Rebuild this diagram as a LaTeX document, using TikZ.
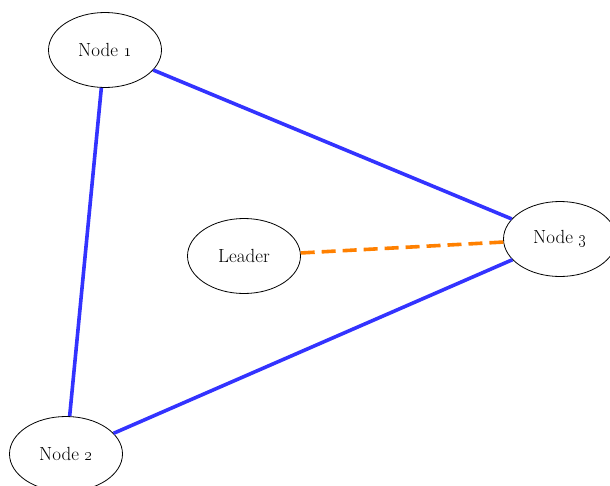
\documentclass[tikz,border=0pt]{standalone}
\usetikzlibrary{shapes.geometric}
\begin{document}
\begin{tikzpicture}[x=1pt,y=-1pt,
  peer/.style={ellipse, draw=black, line width=0.8pt, fill=white,
    minimum width=113pt, minimum height=75pt, inner sep=0pt,
    font=\fontsize{19}{22}\selectfont},
  link/.style={draw={rgb,255:red,51;green,51;blue,255}, line width=3.6pt},
  vote/.style={draw={rgb,255:red,255;green,128;blue,0}, line width=3.6pt,
    dash pattern=on 14pt off 7pt}]
  \useasboundingbox (0,0) rectangle (610,485);
  \clip (0,0) rectangle (610,485);
  \node[peer] (n1) at (105,50) {Node \oldstylenums{1}};
  \node[peer] (n2) at (66,454) {Node \oldstylenums{2}};
  \node[peer] (n3) at (560,239) {Node \oldstylenums{3}};
  \node[peer] (ld) at (244,256) {Leader};
  \draw[link] (n1) -- (n3);
  \draw[link] (n1) -- (n2);
  \draw[link] (n2) -- (n3);
  \draw[vote] (ld) -- (n3);
\end{tikzpicture}
\end{document}
